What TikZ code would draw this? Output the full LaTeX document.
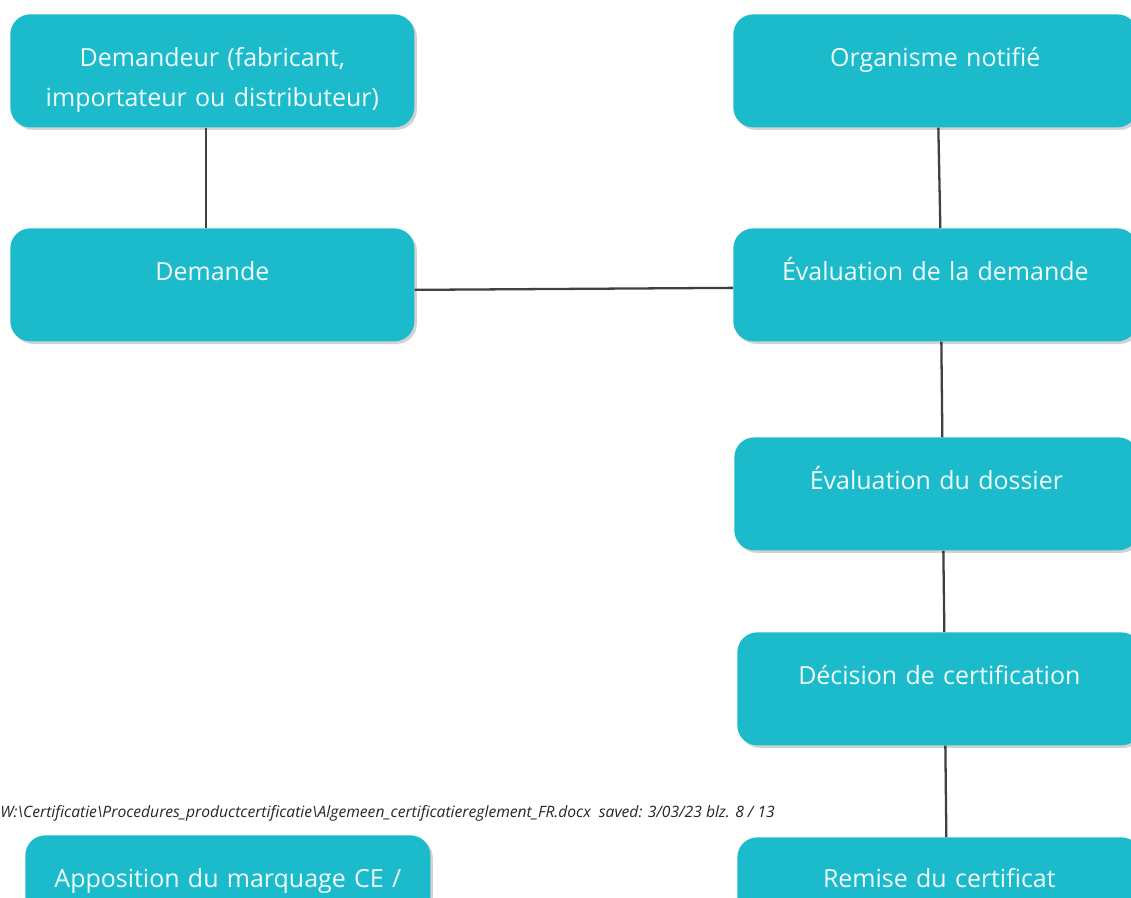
\documentclass[tikz,border=0pt]{standalone}
\usepackage{fontspec}
\setmainfont{Open Sans}
\usetikzlibrary{shapes.geometric, arrows, positioning, shadows, calc}
\definecolor{certcyan}{RGB}{27,187,204}
\definecolor{certgray}{RGB}{64,64,64}
\tikzstyle{stepbox} = [rectangle, rounded corners=0.4cm, anchor=north west, inner sep=0pt, text width=8.08cm, align=center, text height=1.04cm, text depth=1.22cm, fill=certcyan, text=white!94!certcyan, font=\fontsize{14.2}{22.7}\selectfont, drop shadow={shadow xshift=0.05cm, shadow yshift=-0.05cm, opacity=0.35}]
\tikzstyle{link} = [line width=1.3pt, certgray]

\begin{document}
\begin{tikzpicture}
\useasboundingbox (0,0) rectangle (22.62,-17.94);
\fill[white] (0,0) rectangle (22.62,-17.94);

% left column
\node[stepbox] (demandeur) at (0.2,-0.28) {Demandeur (fabricant,\\importateur ou distributeur)};
\node[stepbox] (demande) at (0.2,-4.56) {Demande};
\node[stepbox, text width=8.1cm] (apposition) at (0.5,-16.70) {Apposition du marquage CE /};

% right column
\node[stepbox] (orga) at (14.66,-0.28) {Organisme notifié};
\node[stepbox] (evaldem) at (14.66,-4.56) {Évaluation de la demande};
\node[stepbox] (dossier) at (14.68,-8.74) {Évaluation du dossier};
\node[stepbox] (decision) at (14.74,-12.64) {Décision de certification};
\node[stepbox, text height=1.0cm] (remise) at (14.74,-16.74) {Remise du certificat};

% footer
\node[anchor=west, inner sep=0pt, text=black!85, font=\fontsize{8.9}{11}\selectfont\itshape] (footer) at (0,-16.26)
  {W:\textbackslash Certificatie\textbackslash Procedures\_productcertificatie\textbackslash Algemeen\_certificatiereglement\_FR.docx\ \ saved: 3/03/23 blz. 8 / 13};

% links
\draw[link] ([xshift=-0.12cm]demandeur.south) -- ([xshift=-0.12cm]demande.north);
\draw[link] ([yshift=-0.1cm]demande.east) -- ([yshift=-0.06cm]evaldem.west);
\draw[link] ([xshift=0.06cm]orga.south) -- ([xshift=0.1cm]evaldem.north);
\draw[link] ([xshift=0.12cm]evaldem.south) -- ([xshift=0.12cm]dossier.north);
\draw[link] ([xshift=0.14cm]dossier.south) -- ([xshift=0.1cm]decision.north);
\draw[link] ([xshift=0.12cm]decision.south) -- ([xshift=0.14cm]remise.north);
\end{tikzpicture}
\end{document}
